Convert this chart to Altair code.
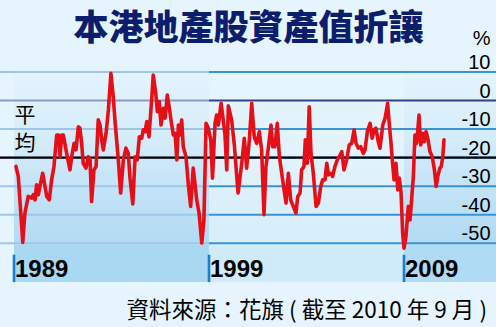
import altair as alt
import pandas as pd

# ---- data ----
years = [1989.10, 1989.22, 1989.45, 1989.56, 1989.73, 1989.91, 1989.99, 1990.08, 1990.16, 1990.25,
         1990.33, 1990.47, 1990.59, 1990.68, 1990.81, 1990.93, 1991.05, 1991.19, 1991.29, 1991.36,
         1991.45, 1991.53, 1991.70, 1991.87, 1991.96, 1992.08, 1992.18, 1992.30, 1992.38, 1992.47,
         1992.55, 1992.69, 1992.81, 1992.90, 1992.98, 1993.10, 1993.21, 1993.32, 1993.41, 1993.50,
         1993.58, 1993.72, 1993.84, 1993.97, 1994.09, 1994.19, 1994.35, 1994.47, 1994.61, 1994.74,
         1994.86, 1994.95, 1995.09, 1995.21, 1995.32, 1995.43, 1995.55, 1995.63, 1995.72, 1995.81,
         1995.92, 1996.06, 1996.14, 1996.27, 1996.35, 1996.45, 1996.54, 1996.66, 1996.75, 1996.86,
         1996.96, 1997.05, 1997.17, 1997.26, 1997.35, 1997.43, 1997.51, 1997.60, 1997.68, 1997.82,
         1997.94, 1998.06, 1998.19, 1998.28, 1998.37, 1998.49, 1998.63, 1998.74, 1998.85, 1998.96,
         1999.09, 1999.18, 1999.31, 1999.39, 1999.48, 1999.62, 1999.73, 1999.82, 1999.91, 1999.99,
         2000.16, 2000.30, 2000.49, 2000.68, 2000.81, 2000.93, 2001.07, 2001.19, 2001.32, 2001.45,
         2001.58, 2001.70, 2001.82, 2001.92, 2002.04, 2002.18, 2002.27, 2002.38, 2002.50, 2002.61,
         2002.73, 2002.85, 2002.95, 2003.07, 2003.19, 2003.32, 2003.46, 2003.55, 2003.67, 2003.75,
         2003.87, 2003.94, 2004.04, 2004.14, 2004.23, 2004.35, 2004.49, 2004.61, 2004.73, 2004.83,
         2004.95, 2005.04, 2005.12, 2005.24, 2005.34, 2005.46, 2005.58, 2005.68, 2005.81, 2005.92,
         2006.06, 2006.19, 2006.32, 2006.44, 2006.54, 2006.66, 2006.78, 2006.91, 2007.00, 2007.12,
         2007.26, 2007.37, 2007.46, 2007.56, 2007.68, 2007.77, 2007.91, 2008.03, 2008.16, 2008.25,
         2008.32, 2008.40, 2008.49, 2008.59, 2008.68, 2008.76, 2008.85, 2008.93, 2009.00, 2009.10,
         2009.22, 2009.31, 2009.39, 2009.48, 2009.56, 2009.65, 2009.77, 2009.86, 2009.96, 2010.04,
         2010.13, 2010.22, 2010.33, 2010.45, 2010.56, 2010.65, 2010.73, 2010.84, 2010.91, 2010.99,
         2011.05]

values = [-23.1, -26.6, -49.7, -39.4, -33.6, -34.2, -33.0, -34.8, -29.5, -33.0,
          -30.1, -25.5, -30.1, -33.6, -34.8, -27.8, -23.1, -12.1, -12.1, -19.7,
          -12.1, -12.1, -18.5, -24.3, -19.7, -15.0, -17.3, -9.2, -9.7, -15.0,
          -22.0, -23.7, -19.7, -20.8, -35.4, -24.3, -23.1, -6.8, -8.6, -13.8,
          -17.3, -11.5, -3.3, 9.5, 1.3, -8.0, -20.8, -32.4, -20.8, -16.7,
          -18.5, -27.2, -36.2, -19.7, -20.8, -12.7, -13.2, -10.3, -10.9, -7.4,
          -12.7, 0.2, 8.9, 2.5, -3.9, -0.4, -8.6, -2.7, -6.2, 1.9,
          -2.2, -6.8, -12.1, -11.5, -20.8, -8.6, -12.1, -6.8, -16.2, -19.7,
          -29.5, -37.1, -23.7, -29.0, -34.8, -39.4, -49.9, -41.8, -8.0, -9.6,
          -13.8, -27.2, -7.9, -5.1, -8.6, -1.0, -6.8, -12.1, -24.3, -1.9,
          -6.8, -15.6, -32.4, -22.0, -13.2, -23.7, -13.8, -1.0, -12.7, -15.0,
          -10.9, -17.3, -40.0, -23.1, -16.7, -8.6, -16.2, -16.2, -8.0, -19.7,
          -25.5, -31.3, -35.9, -25.5, -34.8, -37.1, -39.4, -33.6, -32.4, -24.3,
          -23.1, -13.8, -22.0, -2.2, -18.5, -25.5, -37.1, -35.9, -30.1, -27.8,
          -27.8, -22.0, -26.0, -25.5, -26.6, -23.1, -20.8, -19.7, -17.9, -24.3,
          -20.8, -15.6, -15.0, -10.3, -15.0, -16.7, -16.2, -18.5, -17.3, -10.9,
          -8.0, -13.2, -10.3, -9.7, -14.4, -16.7, -8.6, -6.2, -1.0, -8.6,
          -13.8, -20.8, -27.8, -22.0, -31.3, -27.2, -32.4, -46.4, -51.7, -47.6,
          -37.1, -41.8, -34.8, -26.6, -12.1, -15.0, -5.1, -15.6, -11.5, -14.4,
          -10.9, -13.2, -17.9, -19.7, -24.3, -30.1, -26.6, -23.7, -23.1, -19.7,
          -13.8]

grid_values = [10, 0, -10, -20, -30, -40, -50]
grid_labels = ["10", "0", "-10", "-20", "-30", "-40", "-50"]
decade_years = [1989, 1999, 2009]
decade_labels = ["1989", "1999", "2009"]
average_value = -20
title_text = "本港地產股資產值折讓"
unit_text = "%"
avg_chars = ["平", "均"]
source_text = "資料來源：花旗 ( 截至 2010 年 9 月 )"

# ---- scales ----
X = alt.Scale(domain=[1989, 2009], range=[14, 404], nice=False, zero=False)
Y = alt.Scale(domain=[-50, 10], range=[243.25, 71.95], nice=False, zero=False)

LEFT, MID, RIGHT = 1987.5, 1999, 2015
TOP, GRAD_BOTTOM, BAND_BOTTOM = 14.5, -50.5, -63.6
BG = "#e6f5fd"

def xq(f):
    return alt.X(f, type="quantitative", scale=X, axis=None)

def yq(f):
    return alt.Y(f, type="quantitative", scale=Y, axis=None)

def grad(stops):
    return alt.Gradient(gradient="linear", x1=0, y1=0, x2=0, y2=1,
                        stops=[alt.GradientStop(offset=o, color=c) for o, c in stops])

gradA = grad([(0, BG), (0.35, "#d9eefb"), (1, "#b1daf4")])
gradB = grad([(0, BG), (0.5, "#e2f3fc"), (1, "#d6edfa")])

colsA = pd.DataFrame({"x0": [decade_years[0], decade_years[2]], "x1": [decade_years[1], RIGHT],
                      "y0": [TOP, TOP], "y1": [GRAD_BOTTOM, GRAD_BOTTOM]})
colsB = pd.DataFrame({"x0": [decade_years[1]], "x1": [decade_years[2]],
                      "y0": [TOP], "y1": [GRAD_BOTTOM]})

bgA = alt.Chart(colsA).mark_rect(fill=gradA, strokeWidth=0).encode(
    x=xq("x0"), x2="x1", y=yq("y0"), y2="y1")
bgB = alt.Chart(colsB).mark_rect(fill=gradB, strokeWidth=0).encode(
    x=xq("x0"), x2="x1", y=yq("y0"), y2="y1")

band_df = pd.DataFrame({"x0": [decade_years[0], decade_years[1], decade_years[2]],
                        "x1": [decade_years[1], decade_years[2], RIGHT],
                        "y0": [GRAD_BOTTOM] * 3, "y1": [BAND_BOTTOM] * 3,
                        "k": ["a", "b", "c"]})
band = alt.Chart(band_df).mark_rect(strokeWidth=0).encode(
    x=xq("x0"), x2="x1", y=yq("y0"), y2="y1",
    color=alt.Color("k:N", scale=alt.Scale(domain=["a", "b", "c"],
                                           range=["#a9d8f3", "#cfeaf9", "#b0dbf4"]), legend=None))

grid_rows = []
for v in grid_values:
    z = "0" if v == 0 else ""
    grid_rows.append({"v": v, "x0": LEFT, "x1": MID, "k": "A" + z})
    grid_rows.append({"v": v, "x0": MID, "x1": RIGHT, "k": "B" + z})
grid = alt.Chart(pd.DataFrame(grid_rows)).mark_rule(strokeWidth=2).encode(
    x=xq("x0"), x2="x1", y=yq("v"),
    color=alt.Color("k:N", scale=alt.Scale(domain=["A", "B", "A0", "B0"],
                                           range=["#9cc7ea", "#3893d6", "#8e98c6", "#33418a"]),
                    legend=None))

avg = alt.Chart(pd.DataFrame({"v": [average_value], "x0": [LEFT], "x1": [RIGHT]})).mark_rule(
    color="black", strokeWidth=2.4).encode(x=xq("x0"), x2="x1", y=yq("v"))

line = alt.Chart(pd.DataFrame({"year": years, "value": values})).mark_line(
    color="#e60f18", strokeWidth=3.6, strokeJoin="round", strokeCap="round").encode(
    x=xq("year"), y=yq("value"), order="year:Q")

ticks = alt.Chart(pd.DataFrame({"yr": decade_years, "y0": [-54.0] * 3, "y1": [BAND_BOTTOM] * 3})).mark_rule(
    color="#1a7fd0", strokeWidth=2.6).encode(x=xq("yr"), y=yq("y0"), y2="y1")

dec_text = alt.Chart(pd.DataFrame({"yr": decade_years, "t": decade_labels})).mark_text(
    align="left", baseline="middle", dx=1, font="Liberation Sans", fontSize=24,
    fontWeight="bold", color="black").encode(x=xq("yr"), y=alt.value(270), text="t:N")

ylab = alt.Chart(pd.DataFrame({"v": grid_values, "t": grid_labels})).mark_text(
    align="right", baseline="alphabetic", dy=-3, font="Liberation Sans", fontSize=20,
    color="black").encode(x=alt.value(490.5), y=yq("v"), text="t:N")

unit = alt.Chart(pd.DataFrame({"t": [unit_text]})).mark_text(
    align="right", baseline="alphabetic", font="Liberation Sans", fontSize=20,
    color="black").encode(x=alt.value(490.5), y=alt.value(45), text="t:N")

title = alt.Chart(pd.DataFrame({"t": [title_text]})).mark_text(
    align="center", baseline="middle", font="Noto Sans CJK TC", fontSize=35,
    fontWeight=900, color="#0c1e6b").encode(x=alt.value(248.5), y=alt.value(28.5), text="t:N")

avg_lab = alt.Chart(pd.DataFrame({"t": avg_chars, "py": [116, 144]})).mark_text(
    align="center", baseline="middle", font="Noto Sans CJK TC", fontSize=21,
    color="black").encode(x=alt.value(25), y=alt.Y("py:Q", scale=None, axis=None), text="t:N")

source = alt.Chart(pd.DataFrame({"t": [source_text]})).mark_text(
    align="right", baseline="middle", font="Noto Sans CJK TC", fontSize=22.5,
    color="black").encode(x=alt.value(487), y=alt.value(311), text="t:N")

chart = alt.layer(bgA, bgB, band, grid, avg, line, ticks, dec_text, ylab, unit,
                  title, avg_lab, source).resolve_scale(color="independent").properties(
    width=496, height=327, autosize="none", padding=0, background=BG
).configure_view(strokeWidth=0, fill=BG)

chart.save("out.html", embed_options={"renderer": "svg", "actions": False})
